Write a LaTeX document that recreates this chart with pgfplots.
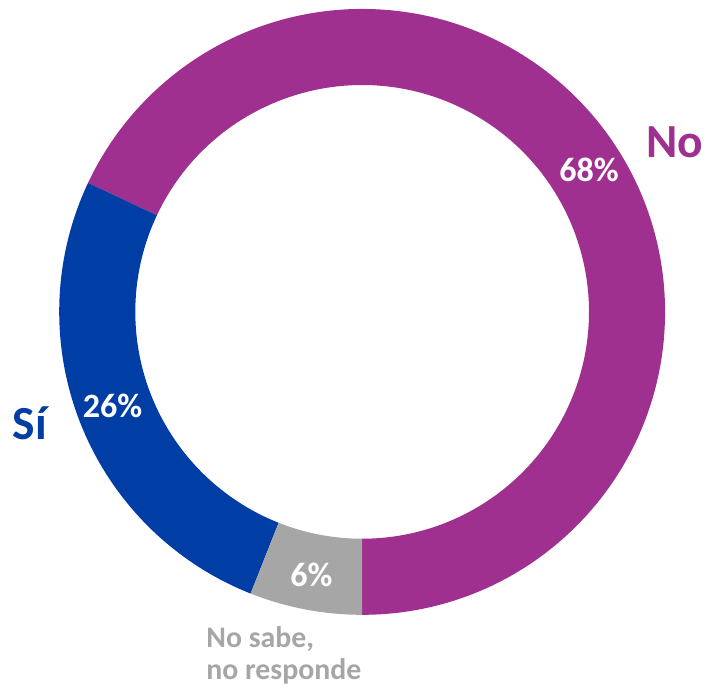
\documentclass[border=0pt]{standalone}
\usepackage{pgfplots}
\usepackage{pgfplotstable}
\pgfplotsset{compat=1.18}
\usepackage{fontspec}
\setmainfont{Carlito}
\definecolor{cNo}{HTML}{A03090}
\definecolor{cSi}{HTML}{003DA5}
\definecolor{cNS}{HTML}{A6A6A6}
\pgfplotstableread{
label value
No 68
Si 26
NS 6
}\piedata
\pgfplotstablegetelem{0}{value}\of\piedata \let\vNo\pgfplotsretval
\pgfplotstablegetelem{1}{value}\of\piedata \let\vSi\pgfplotsretval
\pgfplotstablegetelem{2}{value}\of\piedata \let\vNS\pgfplotsretval
\pgfmathsetmacro{\aA}{-90}
\pgfmathsetmacro{\aB}{\aA+3.6*\vNo}
\pgfmathsetmacro{\aC}{\aB+3.6*\vSi}
\pgfmathsetmacro{\aD}{\aC+3.6*\vNS}
\def\Ro{5}
\def\Ri{3.744}
\newcommand{\donutwedge}[3]{%
  \fill[#3] (axis cs:{\Ro*cos(#1)},{\Ro*sin(#1)}) arc[start angle=#1, end angle=#2, radius=\Ro]
    -- (axis cs:{\Ri*cos(#2)},{\Ri*sin(#2)}) arc[start angle=#2, end angle=#1, radius=\Ri] -- cycle;}
\begin{document}
\begin{tikzpicture}
\begin{axis}[x=1cm, y=1cm, hide axis, clip=false,
  xmin=-5.977, xmax=5.681, ymin=-6.264, ymax=5.148,
  axis line style={draw=none}, tick style={draw=none}]
\path (axis cs:-5.977,-6.264) rectangle (axis cs:5.681,5.148);
\donutwedge{\aA}{\aB}{cNo}
\donutwedge{\aB}{\aC}{cSi}
\donutwedge{\aC}{\aD}{cNS}
\node[anchor=base, text=white, font=\fontsize{16}{18}\selectfont\bfseries] at (axis cs:3.744,2.159) {68\%};
\node[anchor=base, text=white, font=\fontsize{16}{18}\selectfont\bfseries] at (axis cs:-4.121,-1.749) {26\%};
\node[anchor=base, text=white, font=\fontsize{16}{18}\selectfont\bfseries] at (axis cs:-0.837,-4.540) {6\%};
\node[anchor=base, text=cNo, font=\fontsize{22.3}{24}\selectfont\bfseries] at (axis cs:5.156,2.553) {No};
\node[anchor=base, text=cSi, font=\fontsize{22.3}{24}\selectfont\bfseries] at (axis cs:-5.484,-2.110) {Sí};
\node[anchor=base west, inner sep=0pt, text=cNS, font=\fontsize{14}{15}\selectfont\bfseries] at (axis cs:-2.578,-5.542) {No sabe,};
\node[anchor=base west, inner sep=0pt, text=cNS, font=\fontsize{14}{15}\selectfont\bfseries] at (axis cs:-2.578,-6.067) {no responde};
\end{axis}
\end{tikzpicture}
\end{document}
